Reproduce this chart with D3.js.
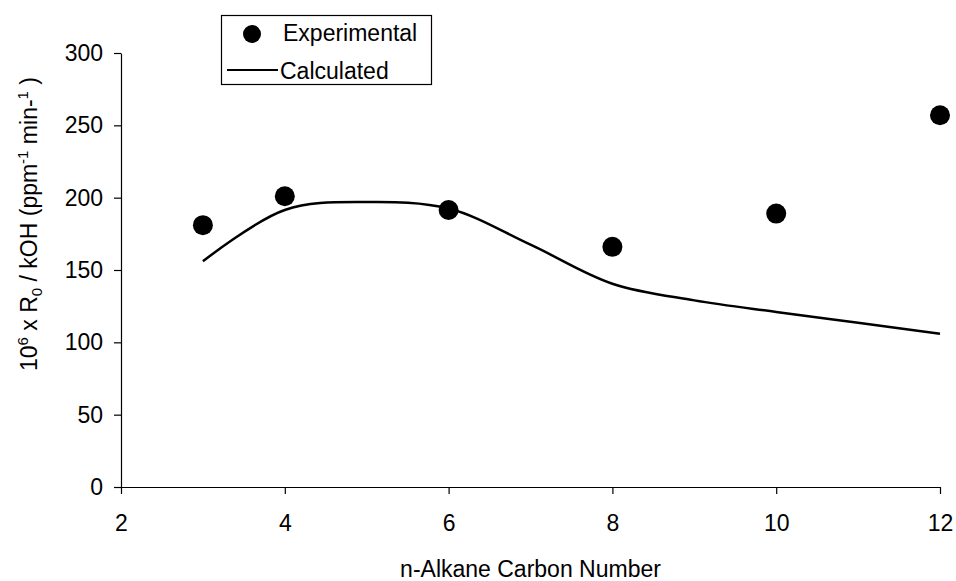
<!DOCTYPE html>
<html>
<head>
<meta charset="utf-8">
<script src="https://cdn.jsdelivr.net/npm/d3@7"></script>
<style>
  body { margin: 0; background: #fff; }
  text { font-family: Arial, "Liberation Sans", sans-serif; fill: #000; }
</style>
</head>
<body>
<div id="chart"></div>
<script>
// data
var expX = [3, 4, 6, 8, 10, 12];
var expY = [181, 201, 191.5, 166, 189, 257];
var calcX = [3, 4, 5, 6, 7, 8, 9, 10, 11, 12];
var calcY = [156, 191.5, 197, 192.5, 167.5, 140.5, 129, 121, 113.5, 106];
var xTicks = [2, 4, 6, 8, 10, 12];
var yTicks = [0, 50, 100, 150, 200, 250, 300];

var svgWidth = 956;
var svgHeight = 581;

var margin = { top: 53, right: 16, bottom: 94, left: 121 };
var width = svgWidth - margin.left - margin.right;
var height = svgHeight - margin.top - margin.bottom;

var svg = d3.select("#chart")
  .append("svg")
  .attr("width", svgWidth)
  .attr("height", svgHeight);

var chartGroup = svg.append("g")
  .attr("transform", `translate(${margin.left}, ${margin.top})`);

// scales
var xScale = d3.scaleLinear().domain([2, 12]).range([0, width]);
var yScale = d3.scaleLinear().domain([0, 300]).range([height, 0]);

// axes
var bottomAxis = d3.axisBottom(xScale).tickValues(xTicks)
  .tickSize(7).tickSizeOuter(0).tickPadding(21);
var leftAxis = d3.axisLeft(yScale).tickValues(yTicks)
  .tickSize(7).tickSizeOuter(0).tickPadding(11);

var xAxisG = chartGroup.append("g")
  .attr("transform", `translate(0, ${height})`)
  .call(bottomAxis);
var yAxisG = chartGroup.append("g")
  .call(leftAxis);

[xAxisG, yAxisG].forEach(function(g) {
  g.selectAll("path, line").attr("stroke", "#000").attr("stroke-width", 1.2);
  g.selectAll("text").attr("font-size", 23).attr("fill", "#000")
    .style("font-family", "Arial, 'Liberation Sans', sans-serif");
});

// calculated line
var calcData = calcX.map(function(x, i) { return { x: x, y: calcY[i] }; });
var line = d3.line()
  .x(d => xScale(d.x))
  .y(d => yScale(d.y))
  .curve(d3.curveCatmullRom.alpha(0.5));

chartGroup.append("path")
  .datum(calcData)
  .attr("fill", "none")
  .attr("stroke", "#000")
  .attr("stroke-width", 2.5)
  .attr("d", line);

// experimental points
var expData = expX.map(function(x, i) { return { x: x, y: expY[i] }; });
chartGroup.selectAll("circle.exp")
  .data(expData)
  .enter()
  .append("circle")
  .attr("class", "exp")
  .attr("cx", d => xScale(d.x))
  .attr("cy", d => yScale(d.y))
  .attr("r", 10)
  .attr("fill", "#000");

// axis titles
svg.append("text")
  .attr("x", (margin.left + xScale(7)) )
  .attr("y", 577)
  .attr("text-anchor", "middle")
  .attr("font-size", 23)
  .text("n-Alkane Carbon Number");

var yTitle = svg.append("text")
  .attr("transform", "translate(37, 224) rotate(-90)")
  .attr("text-anchor", "middle")
  .attr("font-size", 23);
yTitle.append("tspan").text("10");
yTitle.append("tspan").attr("font-size", 15).attr("dy", -9).text("6");
yTitle.append("tspan").attr("dy", 9).text(" x R");
yTitle.append("tspan").attr("font-size", 15).attr("dy", 5).text("0");
yTitle.append("tspan").attr("dy", -5).text(" / kOH (ppm");
yTitle.append("tspan").attr("font-size", 15).attr("dy", -9).text("-1");
yTitle.append("tspan").attr("dy", 9).text("  min-");
yTitle.append("tspan").attr("font-size", 15).attr("dy", -9).text("1");
yTitle.append("tspan").attr("dy", 9).text(" )");

// legend
var legend = svg.append("g");
legend.append("rect")
  .attr("x", 221.5).attr("y", 15.5)
  .attr("width", 210).attr("height", 69)
  .attr("fill", "#fff").attr("stroke", "#000").attr("stroke-width", 1.2);
legend.append("circle")
  .attr("cx", 252).attr("cy", 34).attr("r", 9).attr("fill", "#000");
legend.append("text")
  .attr("x", 283).attr("y", 41).attr("font-size", 23)
  .text("Experimental");
legend.append("line")
  .attr("x1", 227).attr("x2", 278).attr("y1", 70).attr("y2", 70)
  .attr("stroke", "#000").attr("stroke-width", 2);
legend.append("text")
  .attr("x", 280).attr("y", 79).attr("font-size", 23)
  .text("Calculated");
</script>
</body>
</html>
